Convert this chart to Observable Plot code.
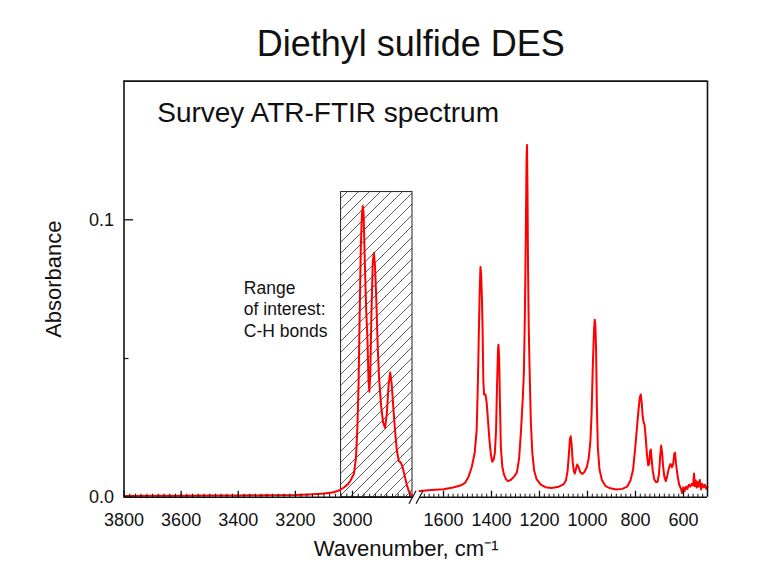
<!DOCTYPE html>
<html><head><meta charset="utf-8">
<script src="https://cdn.jsdelivr.net/npm/d3@7"></script>
<script src="https://cdn.jsdelivr.net/npm/@observablehq/plot@0.6"></script>
<style>body{margin:0;background:#fff}</style>
</head><body><div id="chart"></div>
<script>
// C-H stretching region (left axis segment)
const leftWavenumber = [3800,3700,3600,3500,3400,3300,3200,3150,3100,3070,3050,3030,3015,3007,2995,2988,2983,2979,2975,2971,2967,2964,2961,2957,2952,2948,2944,2941,2938,2934,2929,2925,2921,2917,2912,2907,2900,2893,2886,2880,2874,2868,2863,2857,2851,2845,2838,2831,2825,2817,2810,2803,2795,2790];
const leftAbsorbance = [0.0004,0.0005,0.0005,0.0006,0.0006,0.0007,0.0008,0.0010,0.0013,0.0017,0.0023,0.0035,0.0048,0.0060,0.0085,0.014,0.025,0.040,0.065,0.090,0.102,0.105,0.102,0.085,0.067,0.058,0.042,0.038,0.044,0.065,0.085,0.088,0.083,0.072,0.055,0.043,0.033,0.027,0.025,0.030,0.040,0.045,0.041,0.032,0.024,0.017,0.013,0.0125,0.011,0.0075,0.0045,0.0022,0.0008,0.0003];
// fingerprint region (right axis segment)
const rightWavenumber = [1700,1650,1600,1560,1530,1510,1495,1482,1470,1462,1457,1453,1449,1446,1443,1440,1437,1434,1431,1425,1420,1414,1408,1402,1397,1391,1386,1381,1377,1373,1371,1368,1365,1361,1355,1348,1340,1332,1320,1305,1294,1285,1277,1270,1265,1261,1257,1254,1252,1250,1248,1245,1241,1236,1230,1222,1212,1195,1175,1150,1120,1100,1090,1083,1078,1073,1070,1066,1062,1057,1053,1047,1043,1038,1030,1021,1012,1003,995,988,983,978,973,970,967,964,961,957,950,940,925,905,880,855,835,821,810,802,794,788,782,778,774,770,766,762,757,752,747,743,739,736,732,728,722,715,708,702,697,693,689,685,680,674,668,661,654,648,643,638,635,631,626,618,611,606,601,596,590,584,578,572,566,560,556,553,549,545,541,537,532,527,522,516,511,505,500];
const rightAbsorbance = [0.0022,0.0026,0.0029,0.0035,0.0042,0.0052,0.0075,0.011,0.016,0.024,0.040,0.058,0.075,0.083,0.080,0.072,0.060,0.042,0.037,0.037,0.034,0.027,0.020,0.015,0.0128,0.0135,0.016,0.024,0.040,0.053,0.055,0.050,0.035,0.018,0.011,0.0082,0.0065,0.0058,0.0062,0.0075,0.009,0.014,0.024,0.035,0.045,0.065,0.095,0.122,0.127,0.110,0.085,0.062,0.045,0.027,0.016,0.0095,0.0065,0.0045,0.0036,0.0033,0.0038,0.0046,0.006,0.0095,0.015,0.021,0.022,0.019,0.013,0.0095,0.0085,0.0105,0.0118,0.011,0.009,0.0084,0.0092,0.0108,0.014,0.020,0.030,0.047,0.060,0.064,0.062,0.052,0.033,0.018,0.010,0.0062,0.004,0.0032,0.0028,0.003,0.0038,0.006,0.010,0.017,0.025,0.031,0.036,0.037,0.034,0.029,0.027,0.026,0.021,0.015,0.0115,0.012,0.0165,0.0172,0.013,0.0095,0.0065,0.0055,0.0055,0.0085,0.015,0.0186,0.016,0.011,0.0075,0.0058,0.0075,0.0105,0.012,0.0108,0.012,0.0158,0.016,0.012,0.0085,0.0045,0.0032,0.0015,0.0035,0.0022,0.0038,0.003,0.0045,0.0038,0.0048,0.0042,0.0085,0.004,0.006,0.0035,0.0055,0.0038,0.0062,0.0028,0.0048,0.0035,0.0045,0.003,0.0038];

const majorTicksX = [3800,3600,3400,3200,3000,1600,1400,1200,1000,800,600];
const minorTicksX = d3.range(3780, 2790, -20).concat(d3.range(1680, 500, -20));
const majorTicksY = [0, 0.1];
const minorTicksY = [0.05];
const xDomain = [3800, 2790, 1700, 500];
const yDomain = [0, 0.15];
const roiBox = [{x1: 3040, x2: 2790, y1: 0, y2: 0.11}];
const axisBreaks = [2790, 1700];
const bottomSegments = [{x1: 3800, x2: 2790}, {x1: 1700, x2: 500}];

const spectrum = leftWavenumber.map((w, i) => ({wn: w, a: leftAbsorbance[i], seg: "left"}))
  .concat(rightWavenumber.map((w, i) => ({wn: w, a: rightAbsorbance[i], seg: "right"})));

// custom symbols: axis break slash and inward tick marks
const slash = {draw(ctx) { ctx.moveTo(-3.5, 6.5); ctx.lineTo(3.5, -6.5); }};
const tickUp = (len) => ({draw(ctx) { ctx.moveTo(0, 0); ctx.lineTo(0, -len); }});
const tickRight = (len) => ({draw(ctx) { ctx.moveTo(0, 0); ctx.lineTo(len, 0); }});
const font = "'Liberation Sans', Arial, sans-serif";

const svg = Plot.plot({
  width: 769, height: 578,
  marginLeft: 123.5, marginRight: 62, marginTop: 80.6, marginBottom: 81.3,
  style: {fontFamily: font, fontSize: "18px", background: "white", color: "#111"},
  x: {type: "linear", domain: xDomain, range: [123.5, 412, 419, 707], axis: null},
  y: {domain: yDomain, axis: null},
  marks: [
    Plot.rect(roiBox, {x1: "x1", x2: "x2", y1: "y1", y2: "y2", fill: "url(#hatch)", stroke: "#222", strokeWidth: 1}),
    Plot.line(spectrum, {x: "wn", y: "a", z: "seg", stroke: "#ff0000", strokeWidth: 2}),
    // inward ticks
    Plot.dot(minorTicksX, {x: d => d, y: () => 0, symbol: tickUp(3.5), stroke: "#111", strokeWidth: 1, fill: "none"}),
    Plot.dot(majorTicksX, {x: d => d, y: () => 0, symbol: tickUp(6.5), stroke: "#111", strokeWidth: 1.3, fill: "none"}),
    Plot.dot(minorTicksY, {x: () => xDomain[0], y: d => d, symbol: tickRight(4.5), stroke: "#111", strokeWidth: 1.2, fill: "none"}),
    Plot.dot(majorTicksY, {x: () => xDomain[0], y: d => d, symbol: tickRight(9), stroke: "#111", strokeWidth: 1.3, fill: "none"}),
    // frame
    Plot.ruleY([yDomain[1]], {stroke: "#111", strokeWidth: 1.6}),
    Plot.ruleX([xDomain[0], xDomain[3]], {stroke: "#111", strokeWidth: 1.6}),
    Plot.ruleY(bottomSegments, {x1: "x1", x2: "x2", y: () => 0, stroke: "#111", strokeWidth: 1.6}),
    Plot.dot(axisBreaks, {x: d => d, y: () => 0, symbol: slash, stroke: "#111", strokeWidth: 1.2, fill: "none"}),
    // tick labels
    Plot.axisX({anchor: "bottom", ticks: majorTicksX, tickSize: 0, tickPadding: 16.5, fontSize: 18, tickFormat: d => String(d), label: null}),
    Plot.axisY({anchor: "left", ticks: majorTicksY, tickSize: 0, tickPadding: 10, fontSize: 18, tickFormat: d3.format(".1f"), label: null}),
    // texts
    Plot.text(["Diethyl sulfide DES"], {frameAnchor: "top", lineAnchor: "top", dx: -5, dy: -50.6, fontSize: 36, fill: "#111"}),
    Plot.text(["Survey ATR-FTIR spectrum"], {frameAnchor: "top-left", lineAnchor: "top", textAnchor: "start", dx: 33.2, dy: 21.1, fontSize: 28, fill: "#111"}),
    Plot.text(["Range\nof interest:\nC-H bonds"], {frameAnchor: "top-left", lineAnchor: "top", textAnchor: "start", dx: 119.8, dy: 197.3, fontSize: 17.5, lineHeight: 1.24, fill: "#111"}),
    Plot.text(["Wavenumber, cm\u207B\u00B9"], {frameAnchor: "bottom-left", lineAnchor: "top", textAnchor: "start", dx: 189.8, dy: 43.3, fontSize: 22, fill: "#111"}),
    Plot.text(["Absorbance"], {frameAnchor: "left", lineAnchor: "middle", textAnchor: "middle", rotate: -90, dx: -69.7, dy: -10, fontSize: 22, fill: "#111"})
  ]
});

const ns = "http://www.w3.org/2000/svg";
const defs = document.createElementNS(ns, "defs");
defs.innerHTML = '<pattern id="hatch" patternUnits="userSpaceOnUse" width="11" height="11">' +
  '<path d="M-1,1 l2,-2 M0,11 l11,-11 M10,12 l2,-2" stroke="#333" stroke-width="0.8"/></pattern>';
svg.insertBefore(defs, svg.firstChild);
document.getElementById("chart").appendChild(svg);
</script>
</body></html>
